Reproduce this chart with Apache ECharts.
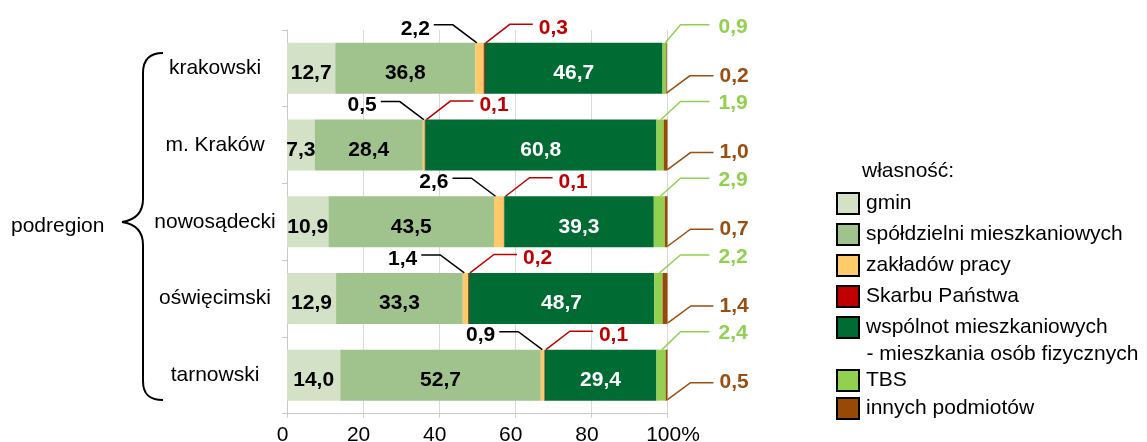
<!DOCTYPE html>
<html lang="pl">
<head>
  <meta charset="UTF-8">
  <title>Mieszkania według form własności</title>
  <script src="https://cdn.jsdelivr.net/npm/echarts@6/dist/echarts.min.js"></script>
  <style>html, body { margin: 0; padding: 0; background: #fff; }</style>
</head>
<body>
<div id="main" style="width:1147px;height:442px;"></div>
<script>
  // dane (%)
  const podregiony = ['krakowski', 'm. Kraków', 'nowosądecki', 'oświęcimski', 'tarnowski'];
  const gmin = [12.7, 7.3, 10.9, 12.9, 14.0];
  const spoldzielni = [36.8, 28.4, 43.5, 33.3, 52.7];
  const zakladow = [2.2, 0.5, 2.6, 1.4, 0.9];
  const skarbu = [0.3, 0.1, 0.1, 0.2, 0.1];
  const wspolnot = [46.7, 60.8, 39.3, 48.7, 29.4];
  const tbs = [0.9, 1.9, 2.9, 2.2, 2.4];
  const innych = [0.2, 1.0, 0.7, 1.4, 0.5];
  const nazwy = ['gmin', 'spółdzielni mieszkaniowych', 'zakładów pracy', 'Skarbu Państwa',
    'wspólnot mieszkaniowych - mieszkania osób fizycznych', 'TBS', 'innych podmiotów'];
  const xTicks = [0, 20, 40, 60, 80, 100];

  const kolory = ['#D3E2C6', '#A0C28D', '#FFCA69', '#C00000', '#006C33', '#92D050', '#984807'];
  const FONT = '"Liberation Sans", Arial, sans-serif';
  const BAR_W = 51;

  const wartosci = [gmin, spoldzielni, zakladow, skarbu, wspolnot, tbs, innych];
  const kolorEtykiety = {0: '#000', 1: '#000', 4: '#fff'};   // etykiety w środku słupka
  const fmt = v => v.toFixed(1).replace('.', ',');

  var myChart = echarts.init(document.getElementById('main'));

  const slupki = nazwy.map((n, k) => ({
    name: n,
    type: 'bar',
    stack: 'razem',
    barWidth: BAR_W,
    data: wartosci[k],
    itemStyle: {color: kolory[k]},
    emphasis: {disabled: true},
    label: {
      show: k in kolorEtykiety,
      position: 'inside',
      offset: [0, 5],
      color: kolorEtykiety[k],
      fontFamily: FONT,
      fontSize: 21,
      fontWeight: 'bold',
      formatter: p => fmt(p.value)
    }
  }));

  // etykiety z liniami odniesienia dla małych udziałów
  function opisy(params, api) {
    const i = params.dataIndex;
    const x = v => api.coord([v, i])[0];
    const cy = api.coord([0, i])[1];
    const top = cy - BAR_W / 2, bottom = cy + BAR_W / 2;
    const s1 = gmin[i] + spoldzielni[i];
    const s2 = s1 + zakladow[i];
    const s3 = s2 + skarbu[i];
    const s4 = s3 + wspolnot[i];
    const s5 = s4 + tbs[i];
    const s6 = s5 + innych[i];
    const xEnd = x(100);
    const children = [];
    function add(points, tx, ty, align, text, color) {
      children.push({type: 'polyline', shape: {points: points},
        style: {stroke: color, lineWidth: 1.5, fill: null}});
      children.push({type: 'text', style: {text: text, x: tx, y: ty, align: align,
        verticalAlign: 'middle', fill: color, font: 'bold 21px ' + FONT}});
    }
    // zakładów pracy
    let a = Math.min(x(s1) + 1.5, (x(s1) + x(s2)) / 2);
    let y = top - 18;
    add([[a, top], [a - 24, y], [a - 43, y]], a - 47, y + 4, 'right', fmt(zakladow[i]), '#000');
    // Skarbu Państwa
    a = (x(s2) + x(s3)) / 2 + 1.5;
    y = top - 18.5;
    add([[a, top], [a + 24, y], [a + 47, y]], a + 53, y + 4, 'left', fmt(skarbu[i]), '#C00000');
    // TBS
    a = (x(s4) + x(s5)) / 2 + 1;
    y = top - 18;
    add([[a, top], [xEnd + 13, y], [xEnd + 42, y]], xEnd + 51, y + 2, 'left', fmt(tbs[i]), '#92D050');
    // innych podmiotów
    a = x(s6);
    y = bottom - 18;
    add([[a, bottom - 1], [a + 23, y], [xEnd + 46, y]], xEnd + 52, y, 'left', fmt(innych[i]), '#9A4E10');
    return {type: 'group', children: children};
  }

  const legendaWspolna = {
    orient: 'vertical',
    left: 836,
    padding: 0,
    icon: 'rect',
    itemWidth: 22,
    itemHeight: 21,
    selectedMode: false,
    itemStyle: {borderColor: '#000', borderWidth: 2},
    textStyle: {fontFamily: FONT, fontSize: 21, color: '#000', lineHeight: 21, padding: [0, 0, 0, 2]}
  };

  myChart.setOption({
    animation: false,
    textStyle: {fontFamily: FONT},
    grid: {left: 287, top: 30, width: 380.5, height: 383.5, outerBoundsMode: 'none'},
    legend: [
      Object.assign({}, legendaWspolna, {
        data: nazwy.slice(0, 5), top: 192, itemGap: 8,
        formatter: n => n.split(' - ')[0]
      }),
      Object.assign({}, legendaWspolna, {data: nazwy.slice(5), top: 369, itemGap: 5})
    ],
    xAxis: {
      type: 'value',
      min: xTicks[0],
      max: xTicks[xTicks.length - 1],
      interval: xTicks[1] - xTicks[0],
      axisLine: {show: true, lineStyle: {color: '#C8C8C8', width: 1}},
      axisTick: {show: true, length: 4, lineStyle: {color: '#C8C8C8'}},
      splitLine: {show: true, lineStyle: {color: '#D9D9D9', width: 1}},
      axisLabel: {
        fontFamily: FONT, fontSize: 21, color: '#000', margin: 11,
        formatter: v => v === 100 ? '{r|100%}' : '{n|' + v + '}',
        rich: {n: {padding: [0, 9, 0, 0]}, r: {padding: [0, 0, 0, 11]}}
      }
    },
    yAxis: {
      type: 'category',
      inverse: true,
      data: podregiony,
      axisLine: {show: true, lineStyle: {color: '#C8C8C8', width: 1}},
      axisTick: {show: true, length: 5, lineStyle: {color: '#C8C8C8'}},
      splitLine: {show: false},
      axisLabel: {fontFamily: FONT, fontSize: 21, color: '#000', align: 'center', margin: 72}
    },
    graphic: [
      {type: 'text', x: 862, y: 171,
        style: {text: 'własność:', font: '21px ' + FONT, fill: '#000', verticalAlign: 'middle'}},
      {type: 'text', x: 866.5, y: 354,
        style: {text: '- mieszkania osób fizycznych', font: '21px ' + FONT, fill: '#000', verticalAlign: 'middle'}},
      {type: 'text', x: 11, y: 226,
        style: {text: 'podregion', font: '21px ' + FONT, fill: '#000', verticalAlign: 'middle'}},
      // nawias klamrowy
      {type: 'bezierCurve', shape: {x1: 163, y1: 53, cpx1: 150, cpy1: 53, cpx2: 143, cpy2: 59, x2: 143, y2: 73},
        style: {stroke: '#000', lineWidth: 2, fill: null}},
      {type: 'line', shape: {x1: 143, y1: 73, x2: 143, y2: 199}, style: {stroke: '#000', lineWidth: 2}},
      {type: 'bezierCurve', shape: {x1: 143, y1: 199, cpx1: 143, cpy1: 213, cpx2: 135, cpy2: 220, x2: 122, y2: 222},
        style: {stroke: '#000', lineWidth: 2, fill: null}},
      {type: 'bezierCurve', shape: {x1: 122, y1: 222, cpx1: 135, cpy1: 224, cpx2: 143, cpy2: 231, x2: 143, y2: 245},
        style: {stroke: '#000', lineWidth: 2, fill: null}},
      {type: 'line', shape: {x1: 143, y1: 245, x2: 143, y2: 381}, style: {stroke: '#000', lineWidth: 2}},
      {type: 'bezierCurve', shape: {x1: 143, y1: 381, cpx1: 143, cpy1: 395, cpx2: 150, cpy2: 400, x2: 163, y2: 400},
        style: {stroke: '#000', lineWidth: 2, fill: null}}
    ],
    series: slupki.concat([{
      name: 'opisy',
      type: 'custom',
      coordinateSystem: 'cartesian2d',
      renderItem: opisy,
      data: podregiony.map((c, i) => [0, i]),
      encode: {x: 0, y: 1},
      silent: true,
      clip: false,
      z: 5
    }])
  });
</script>
</body>
</html>
